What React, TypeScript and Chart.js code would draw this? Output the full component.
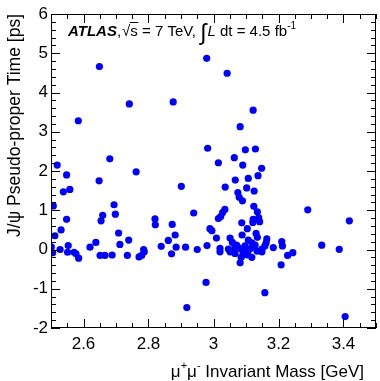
import React, { useEffect, useRef } from "react";
import { Chart, registerables } from "chart.js";

Chart.register(...registerables);

// Dimuon invariant mass [GeV]
const massValues: number[] = [
  2.649, 2.584, 2.741, 2.876, 2.979, 3.042, 3.122, 3.082, 2.519, 2.548,
  2.538, 2.558, 2.507, 2.648, 2.681, 2.762, 2.694, 2.698, 2.659, 2.654,
  2.548, 2.512, 2.531, 2.708, 2.712, 2.739, 2.638, 2.62, 2.553, 2.501,
  2.82, 2.821, 2.873, 2.882, 2.861, 2.839, 2.901, 2.939, 2.982, 3.015,
  3.015, 2.989, 2.995, 3.009, 2.98, 2.95, 2.914, 2.885, 2.785, 2.505,
  2.528, 2.551, 2.571, 2.577, 2.585, 2.651, 2.666, 2.688, 2.735, 2.771,
  2.779, 2.787, 2.871, 2.977, 2.918, 3.158, 3.405, 3.208, 3.228, 3.244,
  3.333, 3.387, 3.29, 3.418, 3.098, 3.129, 3.064, 3.09, 3.148, 3.067,
  3.107, 3.137, 3.036, 3.102, 3.125, 3.075, 3.079, 3.089, 3.124, 3.135,
  3.035, 3.028, 3.022, 3.139, 3.142, 3.122, 3.121, 3.087, 3.104, 3.088,
  3.131, 3.135, 3.051, 3.164, 3.21, 3.184, 3.212, 3.058, 3.071, 3.107,
  3.118, 3.128, 3.02, 3.02, 3.046, 3.051, 3.078, 3.088, 3.097, 3.103,
  3.112, 3.122, 3.106, 3.091, 3.134, 3.149, 3.158, 3.162, 3.066, 3.149,
  3.085, 3.082, 3.118, 3.066,
];

// J/psi pseudo-proper time [ps]
const timeValues: number[] = [
  4.66, 3.28, 3.71, 3.76, 4.87, 4.49, 3.55, 3.13, 2.15, 1.9,
  1.47, 1.53, 1.11, 1.75, 2.31, 1.98, 1.14, 0.9, 0.87, 0.73,
  0.77, 0.35, 0.5, 0.42, 0.13, 0.24, 0.18, 0.06, 0.1, 0.07,
  0.78, 0.63, 0.64, 0.37, 0.23, 0.08, 1.61, 0.93, 2.58, 2.21,
  0.79, 0.53, 0.48, 0.29, 0.1, 0.0, 0.06, 0.06, 0.0, -0.08,
  0.0, -0.07, -0.07, -0.11, -0.22, -0.15, -0.15, -0.14, -0.15, -0.19,
  -0.15, -0.06, -0.11, -0.84, -1.48, -1.1, -1.71, -0.39, -0.15, -0.08,
  0.11, 0.005, 1.01, 0.73, 2.54, 2.56, 2.34, 2.15, 2.07, 1.77,
  1.81, 1.88, 1.59, 1.57, 1.49, 1.45, 1.33, 1.24, 1.1, 0.96,
  1.02, 0.94, 0.84, 0.81, 0.71, 0.77, 0.69, 0.68, 0.53, 0.37,
  0.41, 0.31, 0.29, 0.27, 0.2, 0.05, 0.09, 0.18, 0.11, 0.24,
  0.17, 0.11, 0.03, -0.06, 0.01, -0.06, 0.04, -0.01, 0.09, -0.06,
  0.01, 0.06, -0.14, -0.14, -0.04, 0.01, 0.09, 0.17, 0.06, -0.06,
  -0.2, -0.34, -0.2, -0.1,
];

const xTickValues: number[] = [2.6, 2.8, 3.0, 3.2, 3.4];
const xTickLabels: string[] = ["2.6", "2.8", "3", "3.2", "3.4"];
const yTickValues: number[] = [-2, -1, 0, 1, 2, 3, 4, 5, 6];
const yTickLabels: string[] = ["-2", "-1", "0", "1", "2", "3", "4", "5", "6"];

const X_MIN = 2.5, X_MAX = 3.5, Y_MIN = -2, Y_MAX = 6;
const FONT = "'Liberation Sans', Arial, Helvetica, sans-serif";

const decorPlugin = {
  id: "atlasDecor",
  afterDraw(chart: any) {
    const { ctx, chartArea } = chart;
    const xs = chart.scales.x;
    const ys = chart.scales.y;
    const { left, right, top, bottom } = chartArea;
    ctx.save();
    ctx.strokeStyle = "#000";
    ctx.lineWidth = 1;
    // frame
    ctx.strokeRect(Math.round(left) + 0.5, Math.round(top) + 0.5, Math.round(right - left) - 1, Math.round(bottom - top) - 1);
    ctx.beginPath();
    // x ticks (bottom and top)
    for (let i = 0; i <= 20; i++) {
      const v = X_MIN + i * 0.05;
      const major = Math.abs(v * 5 - Math.round(v * 5)) < 1e-6;
      const len = major ? 9 : 5;
      const px = Math.round(xs.getPixelForValue(v)) + 0.5;
      ctx.moveTo(px, bottom);
      ctx.lineTo(px, bottom - len);
      ctx.moveTo(px, top);
      ctx.lineTo(px, top + len);
    }
    // y ticks (left and right)
    for (let i = 0; i <= 40; i++) {
      const v = Y_MIN + i * 0.2;
      const major = Math.abs(v - Math.round(v)) < 1e-6;
      const len = major ? 9 : 5;
      const py = Math.round(ys.getPixelForValue(v)) + 0.5;
      ctx.moveTo(left, py);
      ctx.lineTo(left + len, py);
      ctx.moveTo(right, py);
      ctx.lineTo(right - len, py);
    }
    ctx.stroke();

    // x axis title
    ctx.fillStyle = "#000";
    ctx.textBaseline = "alphabetic";
    const big = 17;
    const sup = 11;
    const base = 377;
    ctx.font = `${big}px ${FONT}`;
    const muW = ctx.measureText("\u03bc").width;
    const restText = " Invariant Mass [GeV]";
    const restW = ctx.measureText(restText).width;
    ctx.font = `${sup}px ${FONT}`;
    const plusW = ctx.measureText("+").width;
    const minusW = ctx.measureText("-").width;
    const total = muW * 2 + plusW + minusW + restW;
    let x = 364 - total;
    ctx.font = `${big}px ${FONT}`;
    ctx.fillText("\u03bc", x, base); x += muW;
    ctx.font = `${sup}px ${FONT}`;
    ctx.fillText("+", x, base - 8); x += plusW;
    ctx.font = `${big}px ${FONT}`;
    ctx.fillText("\u03bc", x, base); x += muW;
    ctx.font = `${sup}px ${FONT}`;
    ctx.fillText("-", x, base - 8); x += minusW;
    ctx.font = `${big}px ${FONT}`;
    ctx.fillText(restText, x, base);

    // ATLAS label
    const ly = 36;
    let lx = 68;
    ctx.font = `italic bold 15px ${FONT}`;
    ctx.fillText("ATLAS", lx, ly); lx += ctx.measureText("ATLAS").width;
    ctx.font = `15px ${FONT}`;
    ctx.fillText(",", lx, ly); lx += ctx.measureText(",").width + 1;
    ctx.fillText("\u221a", lx, ly); lx += ctx.measureText("\u221a").width;
    const sW = ctx.measureText("s").width;
    ctx.fillText("s", lx, ly);
    ctx.beginPath();
    ctx.moveTo(lx - 0.5, ly - 13.5);
    ctx.lineTo(lx + sW + 0.5, ly - 13.5);
    ctx.stroke();
    lx += sW;
    const t1 = " = 7 TeV, ";
    ctx.fillText(t1, lx, ly); lx += ctx.measureText(t1).width;
    ctx.font = `23px ${FONT}`;
    ctx.fillText("\u222b", lx, ly + 4); lx += ctx.measureText("\u222b").width + 1;
    ctx.font = `italic 15px ${FONT}`;
    ctx.fillText("L", lx, ly); lx += ctx.measureText("L").width;
    ctx.font = `15px ${FONT}`;
    const t2 = " dt = 4.5 fb";
    ctx.fillText(t2, lx, ly); lx += ctx.measureText(t2).width;
    ctx.font = `10px ${FONT}`;
    ctx.fillText("-1", lx, ly - 7);
    ctx.restore();
  },
};

export default function App() {
  const canvasRef = useRef<HTMLCanvasElement | null>(null);

  useEffect(() => {
    document.body.style.margin = "0";
    const canvas = canvasRef.current;
    if (!canvas) return;
    const points = massValues.map((m, i) => ({ x: m, y: timeValues[i] }));
    const chart = new Chart(canvas, {
      type: "scatter",
      data: {
        datasets: [
          {
            data: points,
            backgroundColor: "#0000ff",
            borderWidth: 0,
            pointRadius: 3.6,
            pointHoverRadius: 3.6,
          },
        ],
      },
      options: {
        responsive: false,
        animation: false,
        devicePixelRatio: 1,
        layout: { padding: { top: 14, right: 4, left: 0, bottom: 0 } },
        plugins: {
          legend: { display: false },
          tooltip: { enabled: false },
        },
        scales: {
          x: {
            type: "linear",
            min: X_MIN,
            max: X_MAX,
            grid: { display: false, drawTicks: false },
            border: { display: false },
            afterBuildTicks: (s: any) => {
              s.ticks = xTickValues.map((v) => ({ value: v }));
            },
            afterFit: (s: any) => {
              s.height = 53;
            },
            ticks: {
              color: "#000",
              padding: 6,
              maxRotation: 0,
              autoSkip: false,
              font: { family: FONT, size: 17 },
              callback: (v: any) => {
                const i = xTickValues.findIndex((t) => Math.abs(t - Number(v)) < 1e-6);
                return i >= 0 ? xTickLabels[i] : "";
              },
            },
          },
          y: {
            type: "linear",
            min: Y_MIN,
            max: Y_MAX,
            grid: { display: false, drawTicks: false },
            border: { display: false },
            afterBuildTicks: (s: any) => {
              s.ticks = yTickValues.map((v) => ({ value: v }));
            },
            afterFit: (s: any) => {
              s.width = 51;
            },
            title: {
              display: true,
              text: "J/\u03c8 Pseudo-proper Time [ps]",
              align: "end",
              color: "#000",
              font: { family: FONT, size: 17.5 },
              padding: { top: 5, bottom: 0 },
            },
            ticks: {
              color: "#000",
              padding: 3,
              autoSkip: false,
              font: { family: FONT, size: 17 },
              callback: (v: any) => {
                const i = yTickValues.findIndex((t) => Math.abs(t - Number(v)) < 1e-6);
                return i >= 0 ? yTickLabels[i] : "";
              },
            },
          },
        },
      },
      plugins: [decorPlugin],
    });
    return () => chart.destroy();
  }, []);

  return (
    <div style={{ width: 380, height: 381 }}>
      <canvas ref={canvasRef} width={380} height={381} style={{ display: "block" }} />
    </div>
  );
}
